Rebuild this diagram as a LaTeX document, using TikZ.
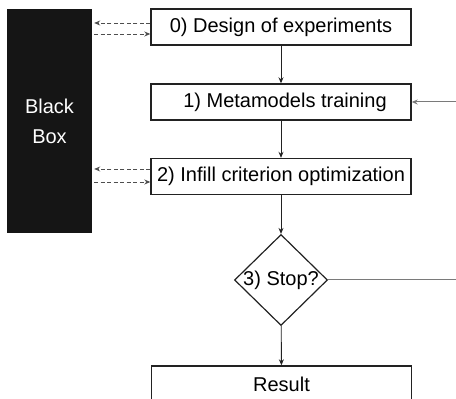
\documentclass[tikz,border=0pt]{standalone}
\usepackage{fontspec}
\setmainfont{Liberation Sans}
\usetikzlibrary{shapes.geometric,arrows.meta}
\definecolor{bbfill}{HTML}{151515}
\definecolor{edge}{HTML}{222222}
\definecolor{fbline}{HTML}{7A7A7A}
\begin{document}
\begin{tikzpicture}[x=1pt,y=1pt,
  every node/.style={font=\fontsize{20}{30}\selectfont},
  stepbox/.style={draw=edge, line width=1.4pt, minimum width=260pt, minimum height=36pt, inner sep=0pt, fill=white},
  flow/.style={draw=edge, line width=0.9pt, -{Stealth[length=6pt,width=5pt]}},
  dasharrow/.style={draw=edge!80, line width=0.8pt, dash pattern=on 4pt off 2.5pt, -{Stealth[length=6pt,width=5pt]}},
  fb/.style={draw=fbline, line width=1pt}
]
\path[use as bounding box, clip] (0,0) rectangle (456,399);
\node[fill=bbfill, minimum width=85pt, minimum height=224pt, inner sep=0pt, text=white, align=center] (bb) at (49.5,278) {Black\\Box};
\node[stepbox] (b0) at (281,372) {0) Design of experiments};
\node[stepbox] (b1) at (281,297) {\hspace*{8pt}1) Metamodels training};
\node[stepbox] (b2) at (281,222.5) {2) Infill criterion optimization};
\node[diamond, draw=edge, line width=1.2pt, minimum width=93pt, minimum height=91pt, inner sep=0pt] (st) at (281,119) {};
\node[inner sep=0pt] (stt) at (st.center) {3) Stop?};
\node[stepbox] (res) at (281.5,15) {Result};
\draw[flow] (b0) -- (b1);
\draw[flow] (b1) -- (b2);
\draw[flow] (b2) -- (st);
\draw[flow] (st) -- (res);
\coordinate (bbA) at (bb.east |- 0,376);
\coordinate (bbB) at (bb.east |- 0,365);
\coordinate (bbC) at (bb.east |- 0,230);
\coordinate (bbD) at (bb.east |- 0,217);
\draw[dasharrow] (b0.west |- bbA) -- ([xshift=2pt]bbA);
\draw[dasharrow] ([xshift=2pt]bbB) -- (b0.west |- bbB);
\draw[dasharrow] (b2.west |- bbC) -- ([xshift=2pt]bbC);
\draw[dasharrow] ([xshift=2pt]bbD) -- (b2.west |- bbD);
\coordinate (loop) at (475,119);
\draw[fb, -{Stealth[length=6pt,width=5pt]}] (st.east) -- (loop) |- (b1.east);
\end{tikzpicture}
\end{document}
